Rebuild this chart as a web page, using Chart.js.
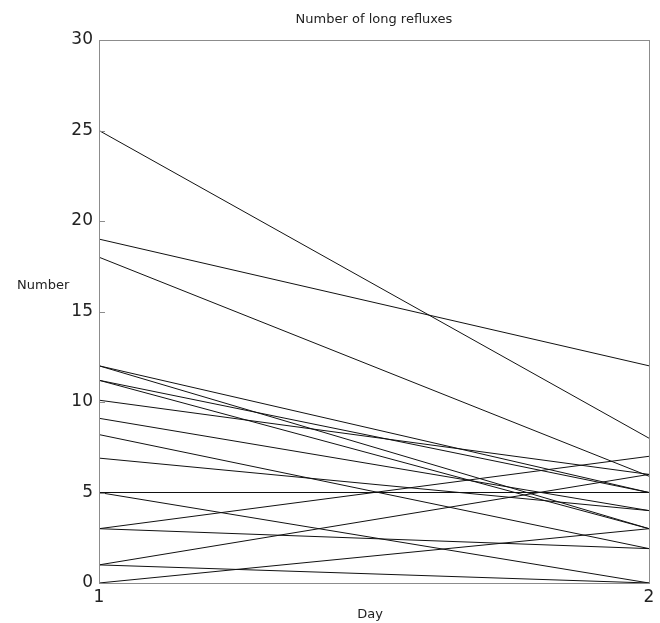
<!DOCTYPE html>
<html>
<head>
<meta charset="utf-8">
<script src="https://cdn.jsdelivr.net/npm/chart.js@4/dist/chart.umd.min.js"></script>
<style>
  html, body { margin: 0; padding: 0; background: #fff; }
</style>
</head>
<body>
<canvas id="refluxChart" width="660" height="623"></canvas>
<script>
// number of long refluxes, one line per patient
var days = ['1', '2'];
var day1 = [25, 19, 18, 12, 12, 11.2, 11.2, 10.1, 9.1, 8.2, 6.9, 5, 5, 3, 3, 1, 1, 0];
var day2 = [8, 12, 5.9, 5, 3, 5, 3, 6, 4, 1.9, 4, 5, 0, 7, 1.9, 6, 0, 3];
var yTicks = [0, 5, 10, 15, 20, 25, 30];

var datasets = day1.map(function (v, i) {
    return {
        label: 'Patient ' + (i + 1),
        data: [v, day2[i]],
        borderColor: '#111',
        borderWidth: 1,
        pointRadius: 0,
        fill: false,
        tension: 0
    };
});

var frame = {
    id: 'frame',
    afterDraw: function (chart) {
        var ctx = chart.ctx;
        var a = chart.chartArea;
        var y = chart.scales.y;
        ctx.save();
        ctx.strokeStyle = '#8c8c8c';
        ctx.lineWidth = 1;
        ctx.strokeRect(a.left + 0.5, a.top + 0.5, a.right - a.left, a.bottom - a.top);
        // small ticks pointing into the plot
        ctx.beginPath();
        yTicks.forEach(function (t) {
            var py = Math.round(y.getPixelForValue(t)) + 0.5;
            ctx.moveTo(a.left, py);
            ctx.lineTo(a.left + 6, py);
        });
        ctx.stroke();

        ctx.fillStyle = '#222';
        ctx.textAlign = 'center';
        ctx.textBaseline = 'middle';
        ctx.font = '13px "DejaVu Sans"';
        ctx.fillText('Number of long refluxes', (a.left + a.right) / 2, 20);
        ctx.fillText('Day', (a.left + a.right) / 2 - 4, 615);
        ctx.textAlign = 'left';
        ctx.fillText('Number', 17, 286);
        ctx.restore();
    }
};

var ctx = document.getElementById('refluxChart').getContext('2d');
var myChart = new Chart(ctx, {
    type: 'line',
    data: {
        labels: days,
        datasets: datasets
    },
    options: {
        responsive: false,
        animation: false,
        layout: {
            padding: { top: 40, right: 11, left: 0, bottom: 0 }
        },
        plugins: {
            legend: { display: false },
            tooltip: { enabled: false }
        },
        scales: {
            x: {
                type: 'category',
                offset: false,
                grid: { display: false, drawTicks: false },
                border: { display: false },
                ticks: {
                    color: '#222',
                    font: { family: 'DejaVu Sans', size: 17 },
                    padding: 4,
                    maxRotation: 0
                },
                afterFit: function (scale) { scale.height = 40; }
            },
            y: {
                min: 0,
                max: 30,
                grid: { display: false, drawTicks: false },
                border: { display: false },
                afterBuildTicks: function (scale) {
                    scale.ticks = yTicks.map(function (v) { return { value: v }; });
                },
                ticks: {
                    color: '#222',
                    font: { family: 'DejaVu Sans', size: 17 },
                    padding: 6
                },
                afterFit: function (scale) { scale.width = 99; }
            }
        }
    },
    plugins: [frame]
});
</script>
</body>
</html>
